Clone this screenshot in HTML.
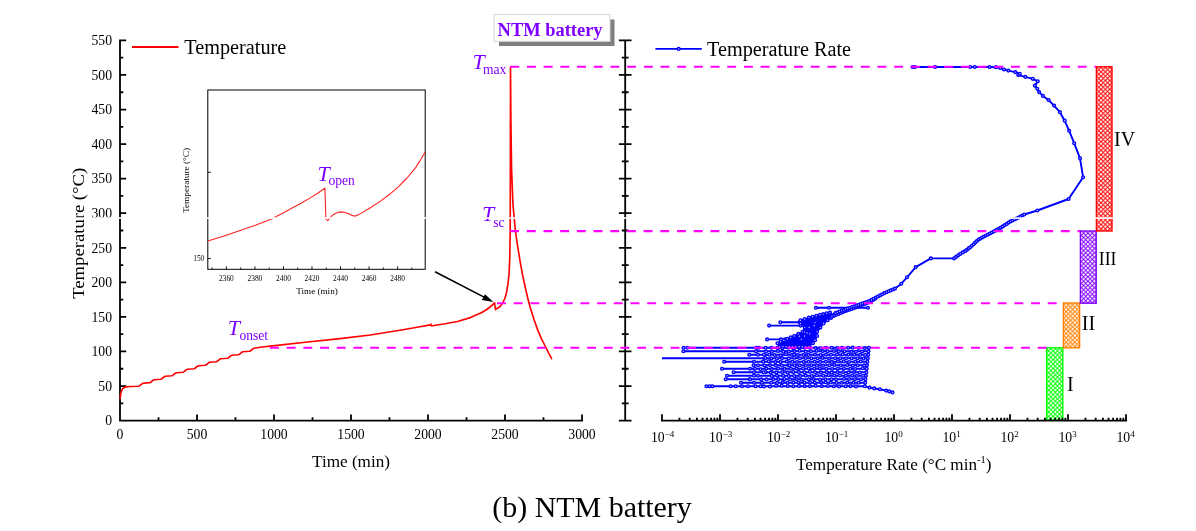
<!DOCTYPE html>
<html lang="en"><head><meta charset="utf-8"><title>(b) NTM battery</title>
<style>html,body{margin:0;padding:0;background:#fff}body{width:1196px;height:531px;overflow:hidden}svg{display:block}</style>
</head><body>
<svg width="1196" height="531" viewBox="0 0 1196 531" font-family='"Liberation Serif", serif'>
<defs><pattern id="hr" x="1096.66" y="71.86" width="4.36" height="4.36" patternUnits="userSpaceOnUse"><rect width="4.36" height="4.36" fill="#fff"/><path d="M-1,-1L5.36,5.36M-1,5.36L5.36,-1" stroke="#ff0000" stroke-width="1.05"/></pattern><pattern id="hp" x="1096.66" y="71.86" width="4.36" height="4.36" patternUnits="userSpaceOnUse"><rect width="4.36" height="4.36" fill="#fff"/><path d="M-1,-1L5.36,5.36M-1,5.36L5.36,-1" stroke="#8000ff" stroke-width="1.05"/></pattern><pattern id="ho" x="1096.66" y="71.86" width="4.36" height="4.36" patternUnits="userSpaceOnUse"><rect width="4.36" height="4.36" fill="#fff"/><path d="M-1,-1L5.36,5.36M-1,5.36L5.36,-1" stroke="#ff8000" stroke-width="1.05"/></pattern><pattern id="hg" x="1096.66" y="71.86" width="4.36" height="4.36" patternUnits="userSpaceOnUse"><rect width="4.36" height="4.36" fill="#fff"/><path d="M-1,-1L5.36,5.36M-1,5.36L5.36,-1" stroke="#00ff00" stroke-width="1.05"/></pattern></defs>
<rect width="1196" height="531" fill="#fff"/>
<path d="M120.0,39.39999999999998V420.6H583.0M120.0,420.60h6.2M120.0,403.32h3.3M120.0,386.04h6.2M120.0,368.75h3.3M120.0,351.47h6.2M120.0,334.19h3.3M120.0,316.91h6.2M120.0,299.63h3.3M120.0,282.35h6.2M120.0,265.06h3.3M120.0,247.78h6.2M120.0,230.50h3.3M120.0,213.22h6.2M120.0,195.94h3.3M120.0,178.65h6.2M120.0,161.37h3.3M120.0,144.09h6.2M120.0,126.81h3.3M120.0,109.53h6.2M120.0,92.25h3.3M120.0,74.96h6.2M120.0,57.68h3.3M120.0,40.40h6.2M120.00,420.6v-6.2M158.50,420.6v-3.3M197.00,420.6v-6.2M235.50,420.6v-3.3M274.00,420.6v-6.2M312.50,420.6v-3.3M351.00,420.6v-6.2M389.50,420.6v-3.3M428.00,420.6v-6.2M466.50,420.6v-3.3M505.00,420.6v-6.2M543.50,420.6v-3.3M582.00,420.6v-6.2" fill="none" stroke="#000" stroke-width="1.8"/>
<text x="112" y="425.3" font-size="13.7" text-anchor="end">0</text>
<text x="112" y="390.7" font-size="13.7" text-anchor="end">50</text>
<text x="112" y="356.2" font-size="13.7" text-anchor="end">100</text>
<text x="112" y="321.6" font-size="13.7" text-anchor="end">150</text>
<text x="112" y="287.0" font-size="13.7" text-anchor="end">200</text>
<text x="112" y="252.5" font-size="13.7" text-anchor="end">250</text>
<text x="112" y="217.9" font-size="13.7" text-anchor="end">300</text>
<text x="112" y="183.4" font-size="13.7" text-anchor="end">350</text>
<text x="112" y="148.8" font-size="13.7" text-anchor="end">400</text>
<text x="112" y="114.2" font-size="13.7" text-anchor="end">450</text>
<text x="112" y="79.7" font-size="13.7" text-anchor="end">500</text>
<text x="112" y="45.1" font-size="13.7" text-anchor="end">550</text>
<text x="120.0" y="438.9" font-size="13.7" text-anchor="middle">0</text>
<text x="197.0" y="438.9" font-size="13.7" text-anchor="middle">500</text>
<text x="274.0" y="438.9" font-size="13.7" text-anchor="middle">1000</text>
<text x="351.0" y="438.9" font-size="13.7" text-anchor="middle">1500</text>
<text x="428.0" y="438.9" font-size="13.7" text-anchor="middle">2000</text>
<text x="505.0" y="438.9" font-size="13.7" text-anchor="middle">2500</text>
<text x="582.0" y="438.9" font-size="13.7" text-anchor="middle">3000</text>
<text x="351" y="466.5" font-size="17" text-anchor="middle" textLength="78" lengthAdjust="spacingAndGlyphs">Time (min)</text>
<text transform="translate(84.3,233.3) rotate(-90)" font-size="17" text-anchor="middle" textLength="131" lengthAdjust="spacingAndGlyphs">Temperature (°C)</text>
<rect x="1046.6" y="347.8" width="16.200000000000045" height="72.19999999999999" fill="url(#hg)" stroke="#00ff00" stroke-width="1.4"/>
<rect x="1063.4" y="303" width="16.199999999999818" height="44.80000000000001" fill="url(#ho)" stroke="#ff8000" stroke-width="1.4"/>
<rect x="1080.4" y="231" width="15.799999999999955" height="72.19999999999999" fill="url(#hp)" stroke="#8000ff" stroke-width="1.4"/>
<rect x="1096.4" y="66.8" width="15.599999999999909" height="164.2" fill="url(#hr)" stroke="#ff0000" stroke-width="1.4"/>
<text x="1114" y="145.5" font-size="20">IV</text>
<text x="1098.8" y="264.8" font-size="19.5" textLength="17.6" lengthAdjust="spacingAndGlyphs">III</text>
<text x="1081.8" y="329.6" font-size="20">II</text>
<text x="1067" y="390.6" font-size="20">I</text>
<path d="M625.2,39.39999999999998V421.6M618.9000000000001,420.60h12.6M621.8000000000001,403.32h6.8M618.9000000000001,386.04h12.6M621.8000000000001,368.75h6.8M618.9000000000001,351.47h12.6M621.8000000000001,334.19h6.8M618.9000000000001,316.91h12.6M621.8000000000001,299.63h6.8M618.9000000000001,282.35h12.6M621.8000000000001,265.06h6.8M618.9000000000001,247.78h12.6M621.8000000000001,230.50h6.8M618.9000000000001,213.22h12.6M621.8000000000001,195.94h6.8M618.9000000000001,178.65h12.6M621.8000000000001,161.37h6.8M618.9000000000001,144.09h12.6M621.8000000000001,126.81h6.8M618.9000000000001,109.53h12.6M621.8000000000001,92.25h6.8M618.9000000000001,74.96h12.6M621.8000000000001,57.68h6.8M618.9000000000001,40.40h12.6" fill="none" stroke="#000" stroke-width="1.8"/>
<path d="M661.0,420.6H1127.0M662.00,420.6v-6.4M679.46,420.6v-2.9M689.67,420.6v-2.9M696.92,420.6v-2.9M702.54,420.6v-2.9M707.13,420.6v-2.9M711.02,420.6v-2.9M714.38,420.6v-2.9M717.35,420.6v-2.9M720.00,420.6v-6.4M737.46,420.6v-2.9M747.67,420.6v-2.9M754.92,420.6v-2.9M760.54,420.6v-2.9M765.13,420.6v-2.9M769.02,420.6v-2.9M772.38,420.6v-2.9M775.35,420.6v-2.9M778.00,420.6v-6.4M795.46,420.6v-2.9M805.67,420.6v-2.9M812.92,420.6v-2.9M818.54,420.6v-2.9M823.13,420.6v-2.9M827.02,420.6v-2.9M830.38,420.6v-2.9M833.35,420.6v-2.9M836.00,420.6v-6.4M853.46,420.6v-2.9M863.67,420.6v-2.9M870.92,420.6v-2.9M876.54,420.6v-2.9M881.13,420.6v-2.9M885.02,420.6v-2.9M888.38,420.6v-2.9M891.35,420.6v-2.9M894.00,420.6v-6.4M911.46,420.6v-2.9M921.67,420.6v-2.9M928.92,420.6v-2.9M934.54,420.6v-2.9M939.13,420.6v-2.9M943.02,420.6v-2.9M946.38,420.6v-2.9M949.35,420.6v-2.9M952.00,420.6v-6.4M969.46,420.6v-2.9M979.67,420.6v-2.9M986.92,420.6v-2.9M992.54,420.6v-2.9M997.13,420.6v-2.9M1001.02,420.6v-2.9M1004.38,420.6v-2.9M1007.35,420.6v-2.9M1010.00,420.6v-6.4M1027.46,420.6v-2.9M1037.67,420.6v-2.9M1044.92,420.6v-2.9M1050.54,420.6v-2.9M1055.13,420.6v-2.9M1059.02,420.6v-2.9M1062.38,420.6v-2.9M1065.35,420.6v-2.9M1068.00,420.6v-6.4M1085.46,420.6v-2.9M1095.67,420.6v-2.9M1102.92,420.6v-2.9M1108.54,420.6v-2.9M1113.13,420.6v-2.9M1117.02,420.6v-2.9M1120.38,420.6v-2.9M1123.35,420.6v-2.9M1126.00,420.6v-6.4" fill="none" stroke="#000" stroke-width="1.8"/>
<text x="662.6" y="442" font-size="13.7" text-anchor="middle">10<tspan font-size="9" dy="-5.5">−4</tspan></text>
<text x="720.6" y="442" font-size="13.7" text-anchor="middle">10<tspan font-size="9" dy="-5.5">−3</tspan></text>
<text x="778.6" y="442" font-size="13.7" text-anchor="middle">10<tspan font-size="9" dy="-5.5">−2</tspan></text>
<text x="836.6" y="442" font-size="13.7" text-anchor="middle">10<tspan font-size="9" dy="-5.5">−1</tspan></text>
<text x="893.6" y="442" font-size="13.7" text-anchor="middle">10<tspan font-size="9" dy="-5.5">0</tspan></text>
<text x="951.6" y="442" font-size="13.7" text-anchor="middle">10<tspan font-size="9" dy="-5.5">1</tspan></text>
<text x="1009.6" y="442" font-size="13.7" text-anchor="middle">10<tspan font-size="9" dy="-5.5">2</tspan></text>
<text x="1067.6" y="442" font-size="13.7" text-anchor="middle">10<tspan font-size="9" dy="-5.5">3</tspan></text>
<text x="1125.6" y="442" font-size="13.7" text-anchor="middle">10<tspan font-size="9" dy="-5.5">4</tspan></text>
<text x="796" y="469.6" font-size="17" textLength="195.5" lengthAdjust="spacingAndGlyphs">Temperature Rate (°C min<tspan font-size="10.5" dy="-6.5">-1</tspan><tspan dy="6.5">)</tspan></text>
<path d="M706.4,386.2H864.8M741.0,382.7H865.2M725.7,379.2H865.5M727.0,375.7H865.9M733.6,372.2H866.3M722.0,368.7H866.7M753.5,365.3H867.0M724.2,361.8H867.4M662.0,358.3H867.8M749.3,354.8H868.2M683.4,351.3H868.5M687.2,347.8H868.9M868.9,347.8L864.8,386.2M864.8,386.2L869.5,387.6L874.2,388.4L879.9,389.2L886.2,390.6L889.3,391.4L892.5,392.4M767.1,339.4H790M769.1,325.6H803M780.3,322.3H802M815.9,307.8H868M832,316.5L845,311.2L858,306.6L869.3,302.2L877,297.6M797.7,345.1L809,332L820.3,320.6L835.4,313L854.2,306.3L869.3,301L884.4,293.1L895,288.6L901.3,283.7L907,277.3L915.7,267.1L930.8,258.4L954.1,258.4L960.2,253.8L965.4,250.9L970.2,247.2L978.6,239.6L984,236.5L990,233.5L1001,227.6L1010.5,221.4L1018.6,217.5L1024.2,214.5L1037.3,210.5L1068.6,199L1083.1,177.2L1080,158.3L1074.2,143.2L1069.2,130.9L1064.7,120.7L1059.9,112.2L1054.1,105.6L1048.6,100.1L1042.9,95.9L1039.1,92.1L1037.3,88.8L1034.8,85.6L1037.8,81.3L1032.8,78.8L1025.3,76.8L1018.3,75.1L1019.8,73.8L1015.3,72.1L1008.3,70.6L1004,69.5L1000.3,68L996,67.2L989.5,67L974.7,67L970.2,67L935.1,67L915,67L912.5,67" fill="none" stroke="#0000ff" stroke-width="1.9" stroke-linejoin="round"/>
<path d="M779.6,346.8L777.5,343.3L783.8,340.2L794.2,336L802.6,331.8L804.7,327.6L800.5,323.4L800.5,320.3L808.9,317.6L820,314.8L830,312.6L834,315.5L827.7,320.3L823.5,323.4L820.4,327.6L817.2,331.8L817.2,336L815.1,340.2L813,343.3L808.9,346.8Z" fill="#0000ff" stroke="#0000ff" stroke-width="1.5" stroke-linejoin="round"/>
<g fill="#c4c4ff" stroke="#0000ff" stroke-width="1.35">
<circle cx="864.8" cy="386.2" r="1.4"/>
<circle cx="856.0" cy="386.4" r="1.4"/>
<circle cx="850.5" cy="386.1" r="1.4"/>
<circle cx="845.5" cy="386.2" r="1.4"/>
<circle cx="839.1" cy="386.4" r="1.4"/>
<circle cx="833.8" cy="386.2" r="1.4"/>
<circle cx="827.9" cy="386.0" r="1.4"/>
<circle cx="821.8" cy="386.1" r="1.4"/>
<circle cx="815.7" cy="385.8" r="1.4"/>
<circle cx="809.9" cy="386.1" r="1.4"/>
<circle cx="804.7" cy="386.1" r="1.4"/>
<circle cx="799.1" cy="385.9" r="1.4"/>
<circle cx="793.3" cy="386.3" r="1.4"/>
<circle cx="787.8" cy="386.0" r="1.4"/>
<circle cx="781.7" cy="385.7" r="1.4"/>
<circle cx="776.0" cy="385.7" r="1.4"/>
<circle cx="769.9" cy="386.5" r="1.4"/>
<circle cx="763.9" cy="386.4" r="1.4"/>
<circle cx="706.4" cy="386.2" r="1.4"/>
<circle cx="709.6" cy="386.2" r="1.4"/>
<circle cx="712.3" cy="386.2" r="1.4"/>
<circle cx="730.5" cy="386.2" r="1.4"/>
<circle cx="735.7" cy="386.2" r="1.4"/>
<circle cx="742.0" cy="386.2" r="1.4"/>
<circle cx="748.0" cy="386.2" r="1.4"/>
<circle cx="755.6" cy="386.2" r="1.4"/>
<circle cx="760.5" cy="386.2" r="1.4"/>
<circle cx="865.2" cy="382.7" r="1.4"/>
<circle cx="858.7" cy="382.8" r="1.4"/>
<circle cx="853.5" cy="382.7" r="1.4"/>
<circle cx="847.4" cy="382.6" r="1.4"/>
<circle cx="841.9" cy="382.7" r="1.4"/>
<circle cx="836.5" cy="383.0" r="1.4"/>
<circle cx="830.6" cy="382.4" r="1.4"/>
<circle cx="825.5" cy="382.2" r="1.4"/>
<circle cx="821.0" cy="382.1" r="1.4"/>
<circle cx="814.8" cy="382.6" r="1.4"/>
<circle cx="810.0" cy="382.2" r="1.4"/>
<circle cx="804.4" cy="382.5" r="1.4"/>
<circle cx="798.5" cy="382.5" r="1.4"/>
<circle cx="793.3" cy="382.4" r="1.4"/>
<circle cx="787.6" cy="382.8" r="1.4"/>
<circle cx="782.8" cy="382.1" r="1.4"/>
<circle cx="777.2" cy="382.9" r="1.4"/>
<circle cx="771.1" cy="382.8" r="1.4"/>
<circle cx="741.0" cy="382.7" r="1.4"/>
<circle cx="762.0" cy="382.7" r="1.4"/>
<circle cx="754.0" cy="382.7" r="1.4"/>
<circle cx="865.5" cy="379.2" r="1.4"/>
<circle cx="860.9" cy="379.2" r="1.4"/>
<circle cx="854.9" cy="379.2" r="1.4"/>
<circle cx="849.1" cy="379.0" r="1.4"/>
<circle cx="844.0" cy="378.7" r="1.4"/>
<circle cx="836.1" cy="379.2" r="1.4"/>
<circle cx="831.5" cy="379.3" r="1.4"/>
<circle cx="825.6" cy="379.2" r="1.4"/>
<circle cx="819.9" cy="379.5" r="1.4"/>
<circle cx="813.8" cy="379.1" r="1.4"/>
<circle cx="808.8" cy="379.4" r="1.4"/>
<circle cx="801.9" cy="379.8" r="1.4"/>
<circle cx="796.6" cy="379.1" r="1.4"/>
<circle cx="790.1" cy="379.3" r="1.4"/>
<circle cx="784.4" cy="379.0" r="1.4"/>
<circle cx="778.3" cy="379.1" r="1.4"/>
<circle cx="773.3" cy="379.1" r="1.4"/>
<circle cx="766.6" cy="379.4" r="1.4"/>
<circle cx="761.2" cy="379.4" r="1.4"/>
<circle cx="725.7" cy="379.2" r="1.4"/>
<circle cx="749.7" cy="379.2" r="1.4"/>
<circle cx="750.0" cy="379.2" r="1.4"/>
<circle cx="865.9" cy="375.7" r="1.4"/>
<circle cx="863.1" cy="375.7" r="1.4"/>
<circle cx="857.0" cy="375.9" r="1.4"/>
<circle cx="852.2" cy="375.8" r="1.4"/>
<circle cx="845.9" cy="375.7" r="1.4"/>
<circle cx="840.0" cy="375.5" r="1.4"/>
<circle cx="834.4" cy="375.5" r="1.4"/>
<circle cx="828.7" cy="375.3" r="1.4"/>
<circle cx="823.3" cy="375.7" r="1.4"/>
<circle cx="817.0" cy="375.2" r="1.4"/>
<circle cx="811.7" cy="376.0" r="1.4"/>
<circle cx="805.7" cy="375.6" r="1.4"/>
<circle cx="800.1" cy="375.9" r="1.4"/>
<circle cx="794.2" cy="376.0" r="1.4"/>
<circle cx="788.7" cy="376.0" r="1.4"/>
<circle cx="783.2" cy="375.7" r="1.4"/>
<circle cx="776.9" cy="375.6" r="1.4"/>
<circle cx="771.6" cy="375.9" r="1.4"/>
<circle cx="727.0" cy="375.7" r="1.4"/>
<circle cx="754.0" cy="375.7" r="1.4"/>
<circle cx="758.0" cy="375.7" r="1.4"/>
<circle cx="866.3" cy="372.2" r="1.4"/>
<circle cx="859.8" cy="372.5" r="1.4"/>
<circle cx="854.1" cy="372.1" r="1.4"/>
<circle cx="848.5" cy="372.4" r="1.4"/>
<circle cx="843.2" cy="372.0" r="1.4"/>
<circle cx="837.6" cy="372.1" r="1.4"/>
<circle cx="831.7" cy="372.5" r="1.4"/>
<circle cx="826.7" cy="372.1" r="1.4"/>
<circle cx="820.9" cy="372.4" r="1.4"/>
<circle cx="815.1" cy="372.2" r="1.4"/>
<circle cx="810.0" cy="371.8" r="1.4"/>
<circle cx="804.4" cy="372.4" r="1.4"/>
<circle cx="798.9" cy="371.9" r="1.4"/>
<circle cx="793.3" cy="372.0" r="1.4"/>
<circle cx="787.8" cy="372.4" r="1.4"/>
<circle cx="782.2" cy="372.0" r="1.4"/>
<circle cx="776.3" cy="372.4" r="1.4"/>
<circle cx="770.7" cy="372.4" r="1.4"/>
<circle cx="765.6" cy="372.2" r="1.4"/>
<circle cx="733.6" cy="372.2" r="1.4"/>
<circle cx="763.6" cy="372.2" r="1.4"/>
<circle cx="754.0" cy="372.2" r="1.4"/>
<circle cx="866.7" cy="368.7" r="1.4"/>
<circle cx="862.7" cy="368.2" r="1.4"/>
<circle cx="855.2" cy="369.0" r="1.4"/>
<circle cx="850.3" cy="368.7" r="1.4"/>
<circle cx="844.0" cy="368.3" r="1.4"/>
<circle cx="837.9" cy="368.5" r="1.4"/>
<circle cx="832.1" cy="369.0" r="1.4"/>
<circle cx="826.2" cy="368.8" r="1.4"/>
<circle cx="820.0" cy="368.6" r="1.4"/>
<circle cx="814.3" cy="368.7" r="1.4"/>
<circle cx="808.7" cy="368.5" r="1.4"/>
<circle cx="803.0" cy="368.5" r="1.4"/>
<circle cx="796.7" cy="368.6" r="1.4"/>
<circle cx="790.9" cy="368.8" r="1.4"/>
<circle cx="784.5" cy="368.9" r="1.4"/>
<circle cx="778.2" cy="368.5" r="1.4"/>
<circle cx="771.8" cy="369.1" r="1.4"/>
<circle cx="766.3" cy="368.6" r="1.4"/>
<circle cx="760.5" cy="369.2" r="1.4"/>
<circle cx="722.0" cy="368.7" r="1.4"/>
<circle cx="755.0" cy="368.7" r="1.4"/>
<circle cx="750.0" cy="368.7" r="1.4"/>
<circle cx="867.0" cy="365.3" r="1.4"/>
<circle cx="864.1" cy="365.4" r="1.4"/>
<circle cx="857.7" cy="365.2" r="1.4"/>
<circle cx="852.8" cy="365.6" r="1.4"/>
<circle cx="847.2" cy="365.0" r="1.4"/>
<circle cx="840.8" cy="365.2" r="1.4"/>
<circle cx="834.4" cy="364.9" r="1.4"/>
<circle cx="829.3" cy="365.3" r="1.4"/>
<circle cx="823.1" cy="365.6" r="1.4"/>
<circle cx="816.9" cy="365.4" r="1.4"/>
<circle cx="811.4" cy="365.2" r="1.4"/>
<circle cx="805.7" cy="365.3" r="1.4"/>
<circle cx="799.8" cy="365.3" r="1.4"/>
<circle cx="794.5" cy="365.2" r="1.4"/>
<circle cx="788.3" cy="365.4" r="1.4"/>
<circle cx="781.9" cy="365.5" r="1.4"/>
<circle cx="775.9" cy="365.5" r="1.4"/>
<circle cx="770.0" cy="365.1" r="1.4"/>
<circle cx="764.6" cy="365.5" r="1.4"/>
<circle cx="753.5" cy="365.3" r="1.4"/>
<circle cx="789.5" cy="365.3" r="1.4"/>
<circle cx="758.0" cy="365.3" r="1.4"/>
<circle cx="867.4" cy="361.8" r="1.4"/>
<circle cx="860.7" cy="361.5" r="1.4"/>
<circle cx="855.3" cy="361.8" r="1.4"/>
<circle cx="849.0" cy="362.0" r="1.4"/>
<circle cx="843.7" cy="361.5" r="1.4"/>
<circle cx="838.0" cy="361.4" r="1.4"/>
<circle cx="831.8" cy="361.9" r="1.4"/>
<circle cx="825.9" cy="361.8" r="1.4"/>
<circle cx="820.2" cy="361.9" r="1.4"/>
<circle cx="814.7" cy="361.8" r="1.4"/>
<circle cx="808.7" cy="361.7" r="1.4"/>
<circle cx="803.8" cy="361.9" r="1.4"/>
<circle cx="797.1" cy="362.0" r="1.4"/>
<circle cx="792.3" cy="361.7" r="1.4"/>
<circle cx="786.8" cy="361.5" r="1.4"/>
<circle cx="780.5" cy="362.0" r="1.4"/>
<circle cx="775.3" cy="362.1" r="1.4"/>
<circle cx="768.7" cy="361.3" r="1.4"/>
<circle cx="763.5" cy="361.4" r="1.4"/>
<circle cx="724.2" cy="361.8" r="1.4"/>
<circle cx="763.2" cy="361.8" r="1.4"/>
<circle cx="754.0" cy="361.8" r="1.4"/>
<circle cx="867.8" cy="358.3" r="1.4"/>
<circle cx="863.5" cy="358.5" r="1.4"/>
<circle cx="857.5" cy="358.3" r="1.4"/>
<circle cx="851.6" cy="358.2" r="1.4"/>
<circle cx="846.0" cy="358.3" r="1.4"/>
<circle cx="840.3" cy="358.2" r="1.4"/>
<circle cx="835.1" cy="358.3" r="1.4"/>
<circle cx="829.1" cy="358.6" r="1.4"/>
<circle cx="822.6" cy="357.9" r="1.4"/>
<circle cx="817.6" cy="358.2" r="1.4"/>
<circle cx="811.5" cy="358.2" r="1.4"/>
<circle cx="805.7" cy="358.0" r="1.4"/>
<circle cx="799.9" cy="358.2" r="1.4"/>
<circle cx="794.2" cy="357.7" r="1.4"/>
<circle cx="788.8" cy="358.4" r="1.4"/>
<circle cx="782.1" cy="358.1" r="1.4"/>
<circle cx="777.0" cy="358.4" r="1.4"/>
<circle cx="771.3" cy="358.6" r="1.4"/>
<circle cx="765.5" cy="358.0" r="1.4"/>
<circle cx="868.2" cy="354.8" r="1.4"/>
<circle cx="865.1" cy="355.0" r="1.4"/>
<circle cx="860.1" cy="354.9" r="1.4"/>
<circle cx="854.4" cy="354.7" r="1.4"/>
<circle cx="848.4" cy="354.6" r="1.4"/>
<circle cx="842.6" cy="354.4" r="1.4"/>
<circle cx="837.0" cy="354.5" r="1.4"/>
<circle cx="831.0" cy="354.8" r="1.4"/>
<circle cx="826.0" cy="354.7" r="1.4"/>
<circle cx="820.7" cy="355.0" r="1.4"/>
<circle cx="815.0" cy="354.6" r="1.4"/>
<circle cx="808.5" cy="354.9" r="1.4"/>
<circle cx="803.4" cy="355.0" r="1.4"/>
<circle cx="797.8" cy="355.1" r="1.4"/>
<circle cx="792.0" cy="354.9" r="1.4"/>
<circle cx="786.1" cy="354.2" r="1.4"/>
<circle cx="780.6" cy="355.2" r="1.4"/>
<circle cx="774.6" cy="355.0" r="1.4"/>
<circle cx="769.3" cy="354.7" r="1.4"/>
<circle cx="763.9" cy="354.8" r="1.4"/>
<circle cx="749.3" cy="354.8" r="1.4"/>
<circle cx="794.3" cy="354.8" r="1.4"/>
<circle cx="758.0" cy="354.8" r="1.4"/>
<circle cx="868.5" cy="351.3" r="1.4"/>
<circle cx="862.1" cy="351.5" r="1.4"/>
<circle cx="856.0" cy="351.7" r="1.4"/>
<circle cx="851.3" cy="351.9" r="1.4"/>
<circle cx="844.6" cy="351.3" r="1.4"/>
<circle cx="838.8" cy="351.4" r="1.4"/>
<circle cx="834.0" cy="351.0" r="1.4"/>
<circle cx="827.6" cy="351.3" r="1.4"/>
<circle cx="822.7" cy="351.1" r="1.4"/>
<circle cx="816.8" cy="350.7" r="1.4"/>
<circle cx="811.0" cy="351.3" r="1.4"/>
<circle cx="805.7" cy="351.7" r="1.4"/>
<circle cx="799.6" cy="350.7" r="1.4"/>
<circle cx="794.5" cy="351.1" r="1.4"/>
<circle cx="788.8" cy="351.5" r="1.4"/>
<circle cx="783.3" cy="351.7" r="1.4"/>
<circle cx="778.0" cy="350.9" r="1.4"/>
<circle cx="771.8" cy="351.8" r="1.4"/>
<circle cx="766.1" cy="351.5" r="1.4"/>
<circle cx="683.4" cy="351.3" r="1.4"/>
<circle cx="756.0" cy="351.3" r="1.4"/>
<circle cx="868.9" cy="347.8" r="1.4"/>
<circle cx="864.8" cy="348.1" r="1.4"/>
<circle cx="858.7" cy="348.0" r="1.4"/>
<circle cx="852.8" cy="347.6" r="1.4"/>
<circle cx="848.2" cy="347.8" r="1.4"/>
<circle cx="842.0" cy="347.9" r="1.4"/>
<circle cx="837.1" cy="348.1" r="1.4"/>
<circle cx="831.8" cy="347.7" r="1.4"/>
<circle cx="825.9" cy="347.8" r="1.4"/>
<circle cx="820.5" cy="348.2" r="1.4"/>
<circle cx="815.7" cy="348.1" r="1.4"/>
<circle cx="809.8" cy="347.7" r="1.4"/>
<circle cx="804.5" cy="347.7" r="1.4"/>
<circle cx="798.9" cy="347.4" r="1.4"/>
<circle cx="793.2" cy="348.2" r="1.4"/>
<circle cx="787.5" cy="347.4" r="1.4"/>
<circle cx="782.4" cy="348.2" r="1.4"/>
<circle cx="777.5" cy="347.7" r="1.4"/>
<circle cx="771.4" cy="347.8" r="1.4"/>
<circle cx="765.7" cy="347.8" r="1.4"/>
<circle cx="687.2" cy="347.8" r="1.4"/>
<circle cx="683.5" cy="347.8" r="1.4"/>
<circle cx="756.6" cy="347.8" r="1.4"/>
<circle cx="758.7" cy="347.8" r="1.4"/>
<circle cx="869.5" cy="387.6" r="1.4"/>
<circle cx="874.2" cy="388.4" r="1.4"/>
<circle cx="879.9" cy="389.2" r="1.4"/>
<circle cx="886.2" cy="390.6" r="1.4"/>
<circle cx="889.3" cy="391.4" r="1.4"/>
<circle cx="892.5" cy="392.4" r="1.4"/>
<circle cx="767.1" cy="339.4" r="1.4"/>
<circle cx="781.0" cy="339.4" r="1.4"/>
<circle cx="785.0" cy="339.4" r="1.4"/>
<circle cx="769.1" cy="325.6" r="1.4"/>
<circle cx="800.7" cy="325.6" r="1.4"/>
<circle cx="780.3" cy="322.3" r="1.4"/>
<circle cx="799.5" cy="322.3" r="1.4"/>
<circle cx="815.9" cy="307.8" r="1.4"/>
<circle cx="829.0" cy="307.8" r="1.4"/>
<circle cx="868.0" cy="307.8" r="1.4"/>
<circle cx="779.6" cy="346.8" r="1.4"/>
<circle cx="777.5" cy="343.3" r="1.4"/>
<circle cx="780.6" cy="341.8" r="1.4"/>
<circle cx="783.8" cy="340.2" r="1.4"/>
<circle cx="787.3" cy="338.8" r="1.4"/>
<circle cx="790.7" cy="337.4" r="1.4"/>
<circle cx="794.2" cy="336.0" r="1.4"/>
<circle cx="798.4" cy="333.9" r="1.4"/>
<circle cx="802.6" cy="331.8" r="1.4"/>
<circle cx="804.7" cy="327.6" r="1.4"/>
<circle cx="800.5" cy="323.4" r="1.4"/>
<circle cx="800.5" cy="320.3" r="1.4"/>
<circle cx="804.7" cy="319.0" r="1.4"/>
<circle cx="808.9" cy="317.6" r="1.4"/>
<circle cx="812.6" cy="316.7" r="1.4"/>
<circle cx="816.3" cy="315.7" r="1.4"/>
<circle cx="820.0" cy="314.8" r="1.4"/>
<circle cx="823.3" cy="314.1" r="1.4"/>
<circle cx="826.7" cy="313.3" r="1.4"/>
<circle cx="830.0" cy="312.6" r="1.4"/>
<circle cx="834.0" cy="315.5" r="1.4"/>
<circle cx="830.9" cy="317.9" r="1.4"/>
<circle cx="827.7" cy="320.3" r="1.4"/>
<circle cx="823.5" cy="323.4" r="1.4"/>
<circle cx="820.4" cy="327.6" r="1.4"/>
<circle cx="817.2" cy="331.8" r="1.4"/>
<circle cx="817.2" cy="336.0" r="1.4"/>
<circle cx="815.1" cy="340.2" r="1.4"/>
<circle cx="813.0" cy="343.3" r="1.4"/>
<circle cx="808.9" cy="346.8" r="1.4"/>
<circle cx="805.6" cy="346.8" r="1.4"/>
<circle cx="802.4" cy="346.8" r="1.4"/>
<circle cx="799.1" cy="346.8" r="1.4"/>
<circle cx="795.9" cy="346.8" r="1.4"/>
<circle cx="792.6" cy="346.8" r="1.4"/>
<circle cx="789.4" cy="346.8" r="1.4"/>
<circle cx="786.1" cy="346.8" r="1.4"/>
<circle cx="782.9" cy="346.8" r="1.4"/>
<circle cx="813.5" cy="322.7" r="1.4"/>
<circle cx="799.4" cy="336.2" r="1.4"/>
<circle cx="804.3" cy="336.7" r="1.4"/>
<circle cx="801.3" cy="339.5" r="1.4"/>
<circle cx="804.7" cy="332.1" r="1.4"/>
<circle cx="809.2" cy="327.4" r="1.4"/>
<circle cx="805.2" cy="335.9" r="1.4"/>
<circle cx="815.0" cy="322.6" r="1.4"/>
<circle cx="814.2" cy="325.7" r="1.4"/>
<circle cx="807.1" cy="333.0" r="1.4"/>
<circle cx="809.7" cy="333.8" r="1.4"/>
<circle cx="804.6" cy="335.9" r="1.4"/>
<circle cx="832.0" cy="316.5" r="1.4"/>
<circle cx="834.2" cy="315.6" r="1.4"/>
<circle cx="836.3" cy="314.7" r="1.4"/>
<circle cx="838.5" cy="313.9" r="1.4"/>
<circle cx="840.7" cy="313.0" r="1.4"/>
<circle cx="842.8" cy="312.1" r="1.4"/>
<circle cx="845.0" cy="311.2" r="1.4"/>
<circle cx="847.2" cy="310.4" r="1.4"/>
<circle cx="849.3" cy="309.7" r="1.4"/>
<circle cx="851.5" cy="308.9" r="1.4"/>
<circle cx="853.7" cy="308.1" r="1.4"/>
<circle cx="855.8" cy="307.4" r="1.4"/>
<circle cx="858.0" cy="306.6" r="1.4"/>
<circle cx="860.3" cy="305.7" r="1.4"/>
<circle cx="862.5" cy="304.8" r="1.4"/>
<circle cx="864.8" cy="304.0" r="1.4"/>
<circle cx="867.0" cy="303.1" r="1.4"/>
<circle cx="869.3" cy="302.2" r="1.4"/>
<circle cx="871.2" cy="301.1" r="1.4"/>
<circle cx="873.1" cy="299.9" r="1.4"/>
<circle cx="875.1" cy="298.8" r="1.4"/>
<circle cx="835.4" cy="313.0" r="1.4"/>
<circle cx="837.5" cy="312.3" r="1.4"/>
<circle cx="839.6" cy="311.5" r="1.4"/>
<circle cx="841.7" cy="310.8" r="1.4"/>
<circle cx="843.8" cy="310.0" r="1.4"/>
<circle cx="845.8" cy="309.3" r="1.4"/>
<circle cx="847.9" cy="308.5" r="1.4"/>
<circle cx="850.0" cy="307.8" r="1.4"/>
<circle cx="852.1" cy="307.0" r="1.4"/>
<circle cx="854.2" cy="306.3" r="1.4"/>
<circle cx="856.4" cy="305.5" r="1.4"/>
<circle cx="858.5" cy="304.8" r="1.4"/>
<circle cx="860.7" cy="304.0" r="1.4"/>
<circle cx="862.8" cy="303.3" r="1.4"/>
<circle cx="865.0" cy="302.5" r="1.4"/>
<circle cx="867.1" cy="301.8" r="1.4"/>
<circle cx="869.3" cy="301.0" r="1.4"/>
<circle cx="871.5" cy="299.9" r="1.4"/>
<circle cx="873.6" cy="298.7" r="1.4"/>
<circle cx="875.8" cy="297.6" r="1.4"/>
<circle cx="877.9" cy="296.5" r="1.4"/>
<circle cx="880.1" cy="295.4" r="1.4"/>
<circle cx="882.2" cy="294.2" r="1.4"/>
<circle cx="884.4" cy="293.1" r="1.4"/>
<circle cx="886.5" cy="292.2" r="1.4"/>
<circle cx="888.6" cy="291.3" r="1.4"/>
<circle cx="890.8" cy="290.4" r="1.4"/>
<circle cx="892.9" cy="289.5" r="1.4"/>
<circle cx="895.0" cy="288.6" r="1.4"/>
<circle cx="901.3" cy="283.7" r="1.4"/>
<circle cx="907.0" cy="277.3" r="1.4"/>
<circle cx="915.7" cy="267.1" r="1.4"/>
<circle cx="930.8" cy="258.4" r="1.4"/>
<circle cx="954.1" cy="258.4" r="1.4"/>
<circle cx="956.1" cy="256.9" r="1.4"/>
<circle cx="958.2" cy="255.3" r="1.4"/>
<circle cx="960.2" cy="253.8" r="1.4"/>
<circle cx="962.8" cy="252.4" r="1.4"/>
<circle cx="965.4" cy="250.9" r="1.4"/>
<circle cx="967.0" cy="249.7" r="1.4"/>
<circle cx="968.6" cy="248.4" r="1.4"/>
<circle cx="970.2" cy="247.2" r="1.4"/>
<circle cx="971.9" cy="245.7" r="1.4"/>
<circle cx="973.6" cy="244.2" r="1.4"/>
<circle cx="975.2" cy="242.6" r="1.4"/>
<circle cx="976.9" cy="241.1" r="1.4"/>
<circle cx="978.6" cy="239.6" r="1.4"/>
<circle cx="980.4" cy="238.6" r="1.4"/>
<circle cx="982.2" cy="237.5" r="1.4"/>
<circle cx="984.0" cy="236.5" r="1.4"/>
<circle cx="986.0" cy="235.5" r="1.4"/>
<circle cx="988.0" cy="234.5" r="1.4"/>
<circle cx="990.0" cy="233.5" r="1.4"/>
<circle cx="991.8" cy="232.5" r="1.4"/>
<circle cx="993.7" cy="231.5" r="1.4"/>
<circle cx="995.5" cy="230.6" r="1.4"/>
<circle cx="997.3" cy="229.6" r="1.4"/>
<circle cx="999.2" cy="228.6" r="1.4"/>
<circle cx="1001.0" cy="227.6" r="1.4"/>
<circle cx="1002.9" cy="226.4" r="1.4"/>
<circle cx="1004.8" cy="225.1" r="1.4"/>
<circle cx="1006.7" cy="223.9" r="1.4"/>
<circle cx="1008.6" cy="222.6" r="1.4"/>
<circle cx="1010.5" cy="221.4" r="1.4"/>
<circle cx="1012.5" cy="220.4" r="1.4"/>
<circle cx="1014.5" cy="219.4" r="1.4"/>
<circle cx="1016.6" cy="218.5" r="1.4"/>
<circle cx="1018.6" cy="217.5" r="1.4"/>
<circle cx="1020.5" cy="216.5" r="1.4"/>
<circle cx="1022.3" cy="215.5" r="1.4"/>
<circle cx="1024.2" cy="214.5" r="1.4"/>
<circle cx="1037.3" cy="210.5" r="1.4"/>
<circle cx="1068.6" cy="199.0" r="1.4"/>
<circle cx="1083.1" cy="177.2" r="1.4"/>
<circle cx="1080.0" cy="158.3" r="1.4"/>
<circle cx="1074.2" cy="143.2" r="1.4"/>
<circle cx="1069.2" cy="130.9" r="1.4"/>
<circle cx="1064.7" cy="120.7" r="1.4"/>
<circle cx="1059.9" cy="112.2" r="1.4"/>
<circle cx="1054.1" cy="105.6" r="1.4"/>
<circle cx="1048.6" cy="100.1" r="1.4"/>
<circle cx="1042.9" cy="95.9" r="1.4"/>
<circle cx="1039.1" cy="92.1" r="1.4"/>
<circle cx="1037.3" cy="88.8" r="1.4"/>
<circle cx="1034.8" cy="85.6" r="1.4"/>
<circle cx="1037.8" cy="81.3" r="1.4"/>
<circle cx="1032.8" cy="78.8" r="1.4"/>
<circle cx="1025.3" cy="76.8" r="1.4"/>
<circle cx="1018.3" cy="75.1" r="1.4"/>
<circle cx="1019.8" cy="73.8" r="1.4"/>
<circle cx="1015.3" cy="72.1" r="1.4"/>
<circle cx="1008.3" cy="70.6" r="1.4"/>
<circle cx="1004.0" cy="69.5" r="1.4"/>
<circle cx="1000.3" cy="68.0" r="1.4"/>
<circle cx="996.0" cy="67.2" r="1.4"/>
<circle cx="989.5" cy="67.0" r="1.4"/>
<circle cx="974.7" cy="67.0" r="1.4"/>
<circle cx="970.2" cy="67.0" r="1.4"/>
<circle cx="935.1" cy="67.0" r="1.4"/>
<circle cx="915.0" cy="67.0" r="1.4"/>
<circle cx="912.5" cy="67.0" r="1.4"/>
</g>
<rect x="207.8" y="90" width="217.39999999999998" height="179.3" fill="#fff" stroke="#000" stroke-width="1"/>
<path d="M212.13,269.3v-1.8M226.40,269.3v-3M240.67,269.3v-1.8M254.93,269.3v-3M269.19,269.3v-1.8M283.46,269.3v-3M297.73,269.3v-1.8M311.99,269.3v-3M326.25,269.3v-1.8M340.52,269.3v-3M354.79,269.3v-1.8M369.05,269.3v-3M383.32,269.3v-1.8M397.58,269.3v-3M411.85,269.3v-1.8M207.8,258.5h3M207.8,172.3h3" stroke="#000" stroke-width="0.9" fill="none"/>
<text x="226.4" y="280.8" font-size="7.4" text-anchor="middle">2360</text>
<text x="254.9" y="280.8" font-size="7.4" text-anchor="middle">2380</text>
<text x="283.5" y="280.8" font-size="7.4" text-anchor="middle">2400</text>
<text x="312.0" y="280.8" font-size="7.4" text-anchor="middle">2420</text>
<text x="340.5" y="280.8" font-size="7.4" text-anchor="middle">2440</text>
<text x="369.1" y="280.8" font-size="7.4" text-anchor="middle">2460</text>
<text x="397.6" y="280.8" font-size="7.4" text-anchor="middle">2480</text>
<text x="204.3" y="261" font-size="7.4" text-anchor="end">150</text>
<text x="317" y="294" font-size="9" text-anchor="middle" textLength="41.5" lengthAdjust="spacingAndGlyphs">Time (min)</text>
<text transform="translate(189.3,180.5) rotate(-90)" font-size="9" text-anchor="middle" textLength="65" lengthAdjust="spacingAndGlyphs">Temperature (°C)</text>
<path d="M207.8,241L224,236L240.1,230.5L256,224.9L271.6,218.9L282,213.6L292.6,207.7L301.5,203L310.2,197.9L318,193L324.9,188.1L325.3,200L325.9,218.9L327.7,220.7L329.4,218.9L332,215.6L334.7,213.7L338,212.4L341.7,211.9L345,212.5L348.7,213.7L351.5,215.2L354,216.1L356.5,215.6L359.2,214.4L370,208L380.2,201.4L389,194.8L397.8,187.4L407,178L415.3,168.1L420.5,160L425.1,152.3" fill="none" stroke="#ff2020" stroke-width="1.1" stroke-linejoin="round"/>
<path d="M120.2,398.5L120.6,394.5L121.6,390.6L123.0,388.2L125.5,386.9L130.0,386.5L138.7,386.2L139.4,386.0L140.9,384.7L142.4,383.6L143.2,383.3L146.5,382.9L149.8,382.7L150.4,382.5L152.0,381.2L153.4,380.1L154.3,379.8L157.5,379.5L160.9,379.2L161.5,379.0L163.1,377.7L164.5,376.6L165.4,376.3L168.6,376.0L171.9,375.7L172.6,375.5L174.1,374.2L175.6,373.1L176.5,372.8L179.7,372.5L183.0,372.2L183.7,372.0L185.2,370.7L186.7,369.6L187.5,369.3L190.8,369.0L194.1,368.7L194.7,368.5L196.3,367.2L197.7,366.1L198.6,365.8L201.8,365.5L205.2,365.2L205.8,365.0L207.4,363.8L208.8,362.6L209.7,362.3L212.9,362.0L216.2,361.7L216.9,361.5L218.4,360.3L219.9,359.1L220.8,358.8L224.0,358.5L227.3,358.2L228.0,358.0L229.5,356.8L231.0,355.6L231.8,355.3L235.1,355.0L238.4,354.7L239.0,354.5L240.6,353.3L242.0,352.1L242.9,351.8L246.1,351.5L249.5,351.2L250.1,351.0L251.7,349.8L253.1,348.6L254.0,348.3L262.0,347.0L272.6,345.9L305.2,342.2L337.8,338.9L370.4,335.0L403.0,329.8L420.0,326.8L430.2,324.9L430.9,324.2L431.6,326.0L432.4,325.8L445.0,323.8L457.4,321.5L470.4,317.6L481.3,312.8L486.0,310.0L490.0,307.0L492.8,304.6L494.6,302.8L495.0,306.0L495.5,309.6L496.8,308.6L498.7,307.6L500.8,305.6L502.8,302.7L504.8,298.5L506.5,292.7L507.8,285.0L509.0,275.0L509.6,262.0L509.9,250.0L510.2,230.0L510.4,150.0L510.5,67.0L510.9,120.0L511.6,170.0L513.0,205.0L515.3,230.0L517.6,246.0L520.3,262.6L522.7,275.5L525.3,287.6L527.7,298.0L530.3,307.7L534.0,319.5L537.8,330.2L541.5,338.8L545.4,346.5L548.5,352.8L551.6,358.6" fill="none" stroke="#ff0000" stroke-width="1.65" stroke-linejoin="round" stroke-linecap="round"/>
<path d="M510.3,66.8H1096" stroke="#ff00ff" stroke-width="2.1" stroke-dasharray="8.9 7.79" fill="none"/>
<path d="M510.1,231.1H1080" stroke="#ff00ff" stroke-width="2.1" stroke-dasharray="8.9 7.79" fill="none"/>
<path d="M497.0,303.2H1064" stroke="#ff00ff" stroke-width="2.1" stroke-dasharray="8.9 7.79" fill="none"/>
<path d="M270.0,347.8H1047" stroke="#ff00ff" stroke-width="2.1" stroke-dasharray="8.9 7.79" fill="none"/>
<path d="M435,271.7L486,298.1" stroke="#000" stroke-width="1.6" fill="none"/>
<path d="M493.4,302L481.8,299.9L485,294.2Z" fill="#000"/>
<path d="M132,47H178.5" stroke="#ff0000" stroke-width="1.8"/>
<text x="184.3" y="54" font-size="20" textLength="102" lengthAdjust="spacingAndGlyphs">Temperature</text>
<path d="M655.4,48.9H701.8" stroke="#0000ff" stroke-width="1.6"/>
<circle cx="678.7" cy="48.9" r="1.4" fill="#c4c4ff" stroke="#0000ff" stroke-width="1.35"/>
<text x="707" y="55.8" font-size="20" textLength="144" lengthAdjust="spacingAndGlyphs">Temperature Rate</text>
<rect x="499" y="19.5" width="115.5" height="26.5" fill="#808080"/>
<rect x="494" y="14.5" width="116" height="26.8" fill="#fff" stroke="#d8d8d8" stroke-width="1"/>
<text x="497.6" y="35.6" font-size="18.5" font-weight="bold" fill="#8000ff" textLength="105" lengthAdjust="spacingAndGlyphs">NTM battery</text>
<text x="472.6" y="68.9" font-size="22" font-style="italic" fill="#8000ff">T</text>
<text x="483" y="73.9" font-size="13.6" fill="#8000ff">max</text>
<text x="482" y="220.5" font-size="22" font-style="italic" fill="#8000ff">T</text>
<text x="493.2" y="226.6" font-size="13.6" fill="#8000ff">sc</text>
<text x="317.4" y="181.4" font-size="22" font-style="italic" fill="#8000ff">T</text>
<text x="328.4" y="185.2" font-size="13.6" fill="#8000ff">open</text>
<text x="227.8" y="334.8" font-size="22" font-style="italic" fill="#8000ff">T</text>
<text x="239.4" y="339.8" font-size="13.6" fill="#8000ff">onset</text>
<text x="492.3" y="516.6" font-size="30" textLength="199.5" lengthAdjust="spacingAndGlyphs">(b) NTM battery</text>
<rect x="0" y="217.3" width="1196" height="1.6" fill="#fff"/>
</svg>
</body></html>
